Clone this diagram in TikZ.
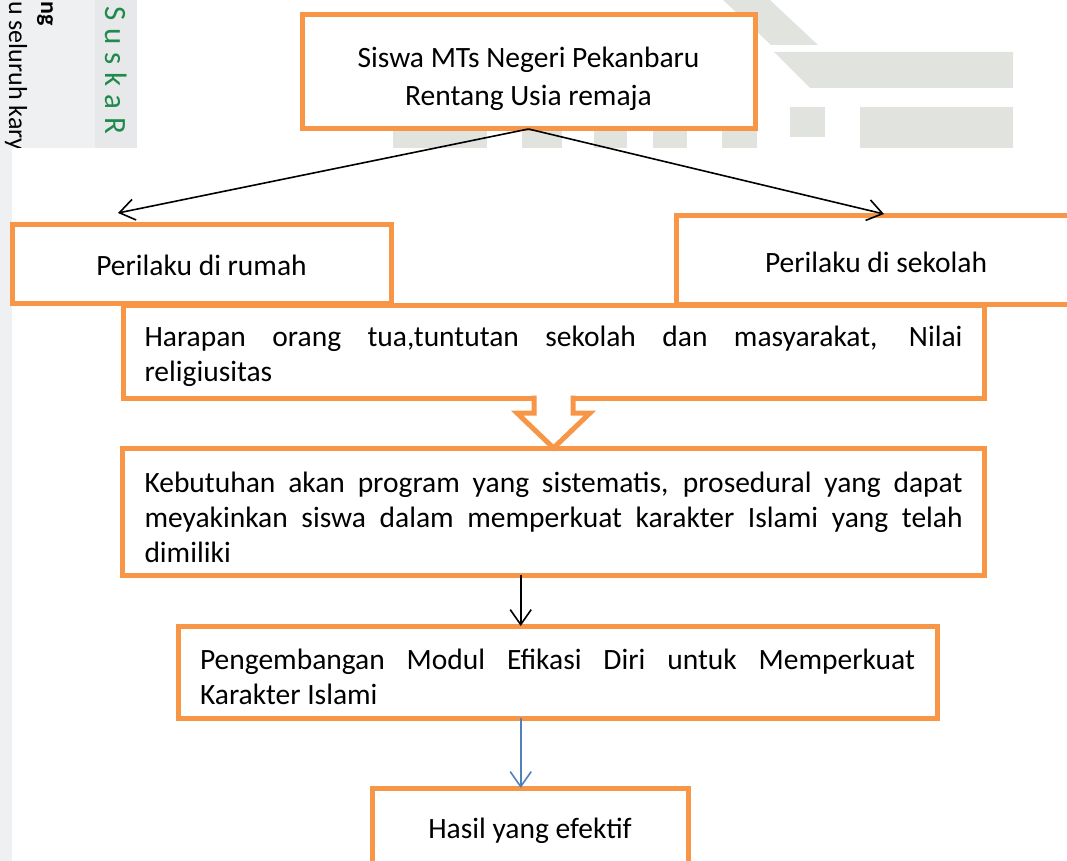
\documentclass[tikz,border=0pt]{standalone}
\usepackage{fontspec}
\setmainfont{Carlito}
\usetikzlibrary{arrows.meta,calc,positioning}
\definecolor{Orange}{HTML}{F79646}
\definecolor{Blue}{HTML}{4F81BD}
\definecolor{Mark}{HTML}{E1E3DF}
\definecolor{MarkLight}{HTML}{EFF0F1}
\definecolor{MarkStrip}{HTML}{E6E8E9}
\definecolor{MarkGreen}{HTML}{1F8A4C}
\hyphenpenalty=10000
\exhyphenpenalty=10000
\tolerance=9999
\newcommand{\lift}[1]{\rule{0pt}{#1pt}}
\tikzset{
  box/.style={draw=Orange,line width=5pt,fill=white,outer sep=0pt,inner sep=0pt,font=\fontsize{29.5}{35}\selectfont},
  para/.style={box,align=justify},
  link/.style={line width=1.6pt,-{Straight Barb[length=15pt,width=21pt]}}
}

\begin{document}
\begin{tikzpicture}[x=1pt,y=-1pt]
  \useasboundingbox (0,0) rectangle (1067,861);
  % watermark of the scanned page
  \fill[MarkLight] (0,0) rectangle (137,148);
  \fill[MarkLight] (0,148) rectangle (12,861);
  \fill[MarkStrip] (95,0) rectangle (137,148);
  \begin{scope}
    \clip (0,0) rectangle (137,148);
    \node[rotate=-90,anchor=west,inner sep=0pt,font=\fontsize{26}{26}\selectfont] (wmkary) at (16,1) {u seluruh kary};
    \node[rotate=-90,anchor=west,inner sep=0pt,font=\fontsize{24}{24}\selectfont\bfseries] (wmng) at (45,1) {ng};
    \node[rotate=-90,anchor=west,inner sep=0pt,text=MarkGreen,font=\fontsize{31}{31}\selectfont] (wmsuska) at (116,6) {\spaceskip=8pt S u s k a R};
  \end{scope}
  \fill[Mark] (723,0) -- (770,0) -- (818,45) -- (771,45) -- cycle;
  \fill[Mark] (774,52) -- (1013,52) -- (1013,88) -- (810,88) -- cycle;
  \fill[Mark] (790,107) rectangle (825,137);
  \fill[Mark] (860,107) rectangle (1013,148);
  \foreach \a/\b in {393/487,522/562,594/627,653/687,722/757}
    \fill[Mark] (\a,125) rectangle (\b,148);

  % boxes
  \node[box,minimum width=453pt,minimum height=114pt,align=center,font=\fontsize{29.5}{38}\selectfont] (siswa) at (528.5,72) {\lift{34}Siswa MTs Negeri Pekanbaru\\Rentang Usia remaja};
  \node[box,minimum width=379pt,minimum height=79pt] (rumah) at (201.5,263.5) {\lift{25}Perilaku di rumah};
  \node[box,minimum width=400pt,minimum height=89pt] (sekolah) at (876,259.5) {\lift{27}Perilaku di sekolah};
  \node[para,minimum width=861pt,minimum height=93pt,text width=818pt] (harapan) at (553.5,351.5) {\lift{31}Harapan orang tua,tuntutan sekolah dan masyarakat, Nilai\linebreak religiusitas};
  \node[para,minimum width=862pt,minimum height=127pt,text width=818pt] (kebutuhan) at (553.5,511.5) {\lift{33}Kebutuhan akan program yang sistematis, prosedural yang dapat\linebreak meyakinkan siswa dalam memperkuat karakter Islami yang telah\linebreak dimiliki};
  \node[para,minimum width=759pt,minimum height=92pt,text width=715pt] (modul) at (557.5,672) {\lift{31}Pengembangan Modul Efikasi Diri untuk Memperkuat\linebreak Karakter Islami};
  \node[box,minimum width=316pt,minimum height=90pt,text depth=9pt] (hasil) at (530,833) {Hasil yang efektif};

  % connectors
  \coordinate (tipL) at (118,213);
  \coordinate (tipR) at (884,214);
  \coordinate (col) at (520.7,0);
  \draw[link] (siswa.south) -- (tipL);
  \draw[link] (siswa.south) -- (tipR);
  \draw[draw=Orange,line width=5pt,fill=white] ([shift={(-19.5,-2.5)}]harapan.south) -- ++(0,17.5) -- ++(-17,0)
    -- (harapan.south |- kebutuhan.north) -- ++(36.5,-35) -- ++(-17,0) -- ++(0,-17.5);
  \draw[link] (kebutuhan.south -| col) -- (modul.north -| col);
  \draw[link,Blue] (modul.south -| col) -- (hasil.north -| col);
\end{tikzpicture}
\end{document}
